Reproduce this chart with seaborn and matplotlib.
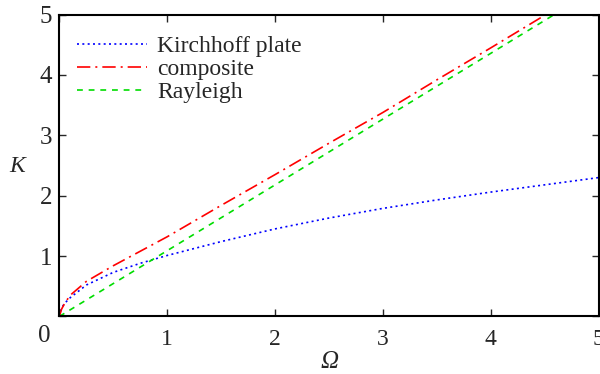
import matplotlib
matplotlib.use("Agg")
import matplotlib.pyplot as plt
import seaborn as sns
import pandas as pd

# Data
omega_kirchhoff = [0, 0.02, 0.05, 0.1, 0.25, 0.5, 0.75, 1.0, 1.5, 2.0, 2.5, 3.0, 3.5, 4.0, 4.5, 5.0]
k_kirchhoff     = [0, 0.14, 0.22, 0.31, 0.52, 0.73, 0.88, 1.01, 1.24, 1.45, 1.63, 1.79, 1.93, 2.06, 2.18, 2.30]

omega_composite = [0, 0.02, 0.05, 0.1, 0.25, 0.5, 0.75, 1.0, 1.5, 2.0, 2.5, 3.0, 3.5, 4.0, 4.5, 5.0]
k_composite     = [0, 0.12, 0.22, 0.35, 0.58, 0.84, 1.08, 1.32, 1.84, 2.35, 2.87, 3.38, 3.92, 4.45, 4.99, 5.53]

omega_rayleigh = [0, 1, 2, 3, 4, 5]
k_rayleigh     = [0, 1.09, 2.18, 3.27, 4.36, 5.45]

series_labels = ["Kirchhoff plate", "composite", "Rayleigh"]
x_ticks = [0, 1, 2, 3, 4, 5]
x_tick_labels = ["", "1", "2", "3", "4", "5"]
y_ticks = [0, 1, 2, 3, 4, 5]
y_tick_labels = ["", "1", "2", "3", "4", "5"]

sns.set_style("white")
plt.rcParams["font.family"] = ["Liberation Serif", "DejaVu Serif"]

fig = plt.figure(figsize=(6.0, 3.74), dpi=100)
ax = fig.add_axes([0.099, 0.154, 0.899, 0.807])

df_k = pd.DataFrame({"Omega": omega_kirchhoff, "K": k_kirchhoff})
df_c = pd.DataFrame({"Omega": omega_composite, "K": k_composite})
df_r = pd.DataFrame({"Omega": omega_rayleigh, "K": k_rayleigh})

sns.lineplot(data=df_k, x="Omega", y="K", ax=ax, color="#0000ff", lw=1.2,
             linestyle=(0, (1.2, 2.0)), label=series_labels[0], sort=False)
sns.lineplot(data=df_c, x="Omega", y="K", ax=ax, color="#ff0000", lw=1.2,
             linestyle=(0, (8, 3, 1.2, 3)), label=series_labels[1], sort=False)
sns.lineplot(data=df_r, x="Omega", y="K", ax=ax, color="#00dd00", lw=1.2,
             linestyle=(0, (3.5, 3.5)), label=series_labels[2], sort=False)

ax.set_xlim(0, 5)
ax.set_ylim(0, 5)
ax.set_xticks(x_ticks)
ax.set_xticklabels(x_tick_labels)
ax.set_yticks(y_ticks)
ax.set_yticklabels(y_tick_labels)
ax.tick_params(axis="both", direction="in", length=5, width=1.0,
               top=True, right=True, bottom=True, left=True)
ax.tick_params(axis="x", labelsize=17, pad=9)
ax.tick_params(axis="y", labelsize=18, pad=5)
for sp in ax.spines.values():
    sp.set_visible(True)
    sp.set_linewidth(1.5)
    sp.set_color("black")

ax.set_xlabel("")
ax.set_ylabel("")
fig.text(17.5 / 600, 1 - 166 / 374, "K", fontsize=17, fontstyle="italic",
         ha="center", va="center")
fig.text(330 / 600, 1 - 362 / 374, "Ω", fontsize=18, fontstyle="italic",
         ha="center", va="center")
fig.text(44 / 600, 1 - 336 / 374, "0", fontsize=18, ha="center", va="center")

leg = ax.legend(loc="upper left", frameon=False, fontsize=17,
                handlelength=2.95, handletextpad=0.45, labelspacing=0.05,
                borderaxespad=0.3, bbox_to_anchor=(0.002, 0.984))

fig.savefig("out.png", dpi=100)
